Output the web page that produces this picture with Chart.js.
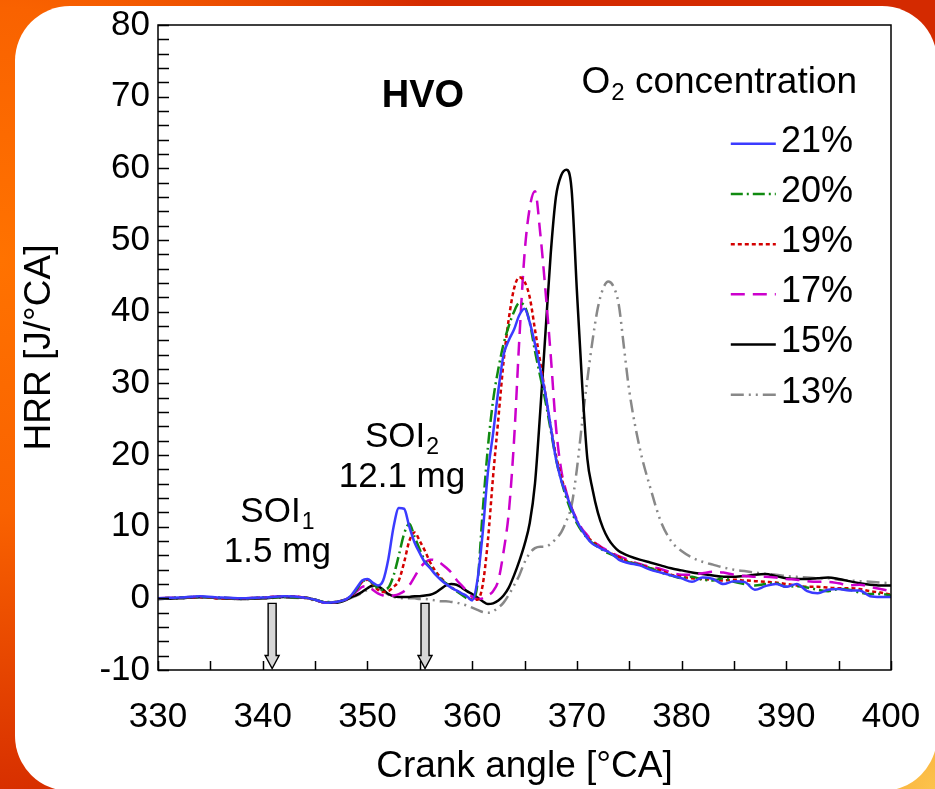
<!DOCTYPE html>
<html>
<head>
<meta charset="utf-8">
<script src="https://cdn.jsdelivr.net/npm/chart.js@4"></script>
<style>
  html, body { margin: 0; padding: 0; }
  body {
    width: 935px; height: 789px; overflow: hidden; position: relative;
    background:
      radial-gradient(circle 130px at 935px 789px, #fcc34c 0%, #f9b03c 45%, rgba(249,176,60,0) 100%),
      radial-gradient(ellipse 480px 560px at 0px 260px, #ff7200 0%, #f96200 45%, #d42a00 100%),
      #d42a00;
  }
  #card { position: absolute; left: 15px; top: 6px; width: 922px; height: 785px; background: #fff; border-radius: 55px; }
  #wrap { position: absolute; left: 0; top: 0; width: 935px; height: 789px; }
</style>
</head>
<body>
<div id="card"></div>
<div id="wrap"><canvas id="hrrChart"></canvas></div>
<script>
// crank angle [°CA]
var angle = [330, 332, 334, 336, 338, 340, 342, 344, 345, 346, 347, 348,
  348.5, 349, 349.5, 350, 350.5, 351, 351.5, 352, 352.5, 353, 353.5, 354, 354.5, 355, 355.5,
  356, 356.5, 357, 357.5, 358, 358.5, 359, 359.5, 360, 360.5, 361, 361.5, 362, 362.5, 363, 363.5,
  364, 364.5, 365, 365.5, 366, 366.5, 367, 367.5, 368, 368.5, 369, 369.5, 370, 370.5, 371, 371.5,
  372, 372.5, 373, 373.5, 374, 374.5, 375,
  376, 377, 378, 379, 380, 381, 382, 383, 384, 385, 386, 387, 388, 389, 390, 391, 392, 393, 394,
  395, 396, 397, 398, 399, 400];

// HRR [J/°CA] per O2 concentration
var hrr21 = [0, 0.1, 0.3, 0.1, 0, 0.1, 0.3, 0.1, -0.2, -0.6, -0.5, -0.1,
  0.5, 1.5, 2.5, 2.7, 2.2, 1.8, 2.5, 5.5, 10.0, 12.6, 12.5, 10.0, 7.8, 6.3, 5.0,
  4.2, 3.3, 2.6, 2.0, 1.5, 1.1, 0.7, 0.3, -0.3, 2.5, 9.0, 17.5, 23.0, 29.0, 34.0, 36.0,
  37.5, 39.5, 40.4, 38.5, 35.5, 32.0, 28.5, 24.0, 19.5, 16.5, 14.5, 12.5, 10.8, 9.5, 8.4, 7.6,
  7.2, 6.8, 6.5, 6.0, 5.4, 5.1, 4.9,
  4.6, 4.0, 3.6, 3.2, 2.8, 2.3, 2.9, 2.7, 2.0, 2.4, 2.3, 1.2, 1.7, 2.0, 1.6, 2.0, 1.0, 0.7, 1.2,
  1.3, 1.1, 1.1, 0.3, 0.2, 0.2];
var hrr20 = [0, 0.1, 0.2, 0.1, 0, 0.1, 0.2, 0.1, -0.2, -0.5, -0.5, -0.1,
  0.4, 1.3, 2.3, 2.6, 2.1, 1.4, 1.2, 1.5, 3.2, 6.0, 9.0, 10.4, 8.6, 6.8, 5.2,
  4.3, 3.5, 2.7, 2.1, 1.5, 1.0, 0.5, 0.0, -0.2, 2.0, 12.0, 21.0, 27.6, 32.0, 35.5, 38.0,
  40.0, 41.2, 40.8, 38.5, 34.5, 31.0, 27.5, 23.5, 19.5, 16.5, 14.0, 12.0, 10.5, 9.3, 8.4, 7.7,
  7.2, 6.7, 6.3, 6.0, 5.6, 5.3, 5.0,
  4.7, 4.2, 3.6, 3.2, 2.8, 3.0, 2.6, 2.5, 2.8, 2.3, 2.0, 1.8, 2.0, 2.1, 1.6, 1.7, 1.5, 1.2, 1.0,
  1.3, 1.2, 0.8, 0.6, 0.6, 0.4];
var hrr19 = [0, 0.1, 0.2, 0, 0, 0.1, 0.3, 0.1, -0.2, -0.6, -0.5, -0.1,
  0.4, 1.3, 2.3, 2.6, 2.0, 1.2, 0.9, 1.0, 1.6, 2.5, 5.0, 8.0, 9.2, 8.0, 6.6,
  5.0, 3.8, 2.9, 2.1, 1.5, 1.1, 0.6, 0.2, -0.2, -0.2, 1.8, 8.0, 17.0, 25.0, 33.0, 39.0,
  43.2, 44.8, 44.2, 42.0, 37.5, 33.0, 28.5, 24.0, 20.0, 17.0, 14.5, 12.5, 10.8, 9.5, 8.6, 7.9,
  7.4, 6.9, 6.5, 6.1, 5.8, 5.4, 5.1,
  4.7, 4.2, 3.9, 3.3, 3.0, 2.8, 2.7, 2.6, 2.5, 2.6, 2.5, 2.4, 2.3, 2.2, 2.0, 1.8, 1.6, 1.6, 1.5,
  1.4, 1.4, 1.3, 1.0, 0.8, 0.5];
var hrr17 = [0, 0.1, 0.2, 0.1, 0, 0.1, 0.3, 0.1, -0.2, -0.6, -0.5, -0.1,
  0.3, 1.0, 1.6, 1.7, 1.2, 0.7, 0.4, 0.3, 0.4, 0.6, 1.0, 1.8, 3.0, 4.2, 5.0,
  5.4, 5.3, 4.9, 4.3, 3.6, 2.6, 1.8, 1.0, 0.2, -0.1, 0.0, 0.4, 1.0, 2.5, 6.5, 12.0,
  22.0, 36.0, 48.0, 54.5, 56.8, 51.0, 43.0, 34.0, 24.0, 18.0, 14.8, 12.6, 11.0, 9.7, 8.8, 8.0,
  7.5, 7.0, 6.6, 6.2, 5.9, 5.6, 5.3,
  4.8, 4.4, 4.1, 3.6, 3.3, 3.3, 3.5, 3.7, 3.6, 3.3, 3.1, 3.0, 3.0, 2.9, 2.7, 2.6, 2.4, 2.3, 2.3,
  2.1, 1.8, 1.9, 1.6, 1.3, 1.0];
var hrr15 = [-0.1, 0, 0.2, 0, -0.1, 0, 0.2, 0.1, -0.2, -0.6, -0.6, -0.2,
  0.2, 0.5, 0.9, 1.4, 1.8, 1.7, 1.2, 0.6, 0.3, 0.2, 0.2, 0.2, 0.3, 0.3, 0.4,
  0.5, 0.8, 1.3, 1.8, 2.0, 1.9, 1.5, 1.0, 0.6, 0.1, -0.4, -0.8, -0.7, -0.3, 0.4, 1.5,
  3.2, 5.2, 7.5, 10.5, 16.0, 26.0, 37.0, 48.0, 56.0, 59.0, 59.8, 57.0, 43.0, 30.0, 19.5, 15.2,
  12.0, 9.8, 8.3, 7.3, 6.6, 6.2, 5.9,
  5.4, 5.0, 4.6, 4.2, 3.9, 3.6, 3.4, 3.2, 3.0, 3.0, 3.1, 3.3, 3.4, 3.1, 2.8, 2.7, 2.7, 2.8, 2.9,
  2.7, 2.4, 2.1, 1.9, 1.8, 1.8];
var hrr13 = [-0.1, 0, 0.1, 0, -0.1, 0, 0.1, 0, -0.3, -0.6, -0.6, -0.2,
  0.1, 0.4, 0.8, 1.2, 1.5, 1.4, 1.0, 0.5, 0.2, 0.1, 0.0, 0.0, 0.0, -0.1, -0.1,
  -0.2, -0.3, -0.4, -0.4, -0.5, -0.6, -0.8, -1.0, -1.3, -1.6, -1.9, -2.0, -1.8, -1.3, -0.6, 0.5,
  1.8, 3.2, 5.0, 6.3, 7.0, 7.2, 7.2, 7.6, 8.3, 9.2, 10.8, 13.0, 18.0, 24.5, 30.5, 36.0,
  40.5, 43.2, 44.2, 43.5, 41.0, 35.0, 29.0,
  21.0, 15.5, 10.8, 8.0, 6.6, 5.7, 5.1, 4.7, 4.3, 4.0, 3.8, 3.6, 3.4, 3.3, 3.1, 3.0, 2.9, 2.8, 2.8,
  2.6, 2.5, 2.4, 2.3, 2.2, 2.1];

var seriesLabels = ["21%", "20%", "19%", "17%", "15%", "13%"];
var xTickLabels = [330, 340, 350, 360, 370, 380, 390, 400];
var yTickLabels = [-10, 0, 10, 20, 30, 40, 50, 60, 70, 80];

var FONT = '"Liberation Sans", Arial, Helvetica, sans-serif';

function pts(vals) {
  return angle.map(function (a, i) { return { x: a, y: vals[i] }; });
}

var styles = [
  { color: "#3b3bff", dash: [] },
  { color: "#108a10", dash: [12, 4, 2, 4] },
  { color: "#d40000", dash: [4, 3] },
  { color: "#cc00cc", dash: [14, 8] },
  { color: "#000000", dash: [] },
  { color: "#888888", dash: [13, 5, 2, 5, 2, 5] }
];
var series = [hrr21, hrr20, hrr19, hrr17, hrr15, hrr13];

var data = {
  datasets: series.map(function (s, i) {
    return {
      label: seriesLabels[i],
      data: pts(s),
      borderColor: styles[i].color,
      borderDash: styles[i].dash,
      borderWidth: 2.5,
      pointRadius: 0,
      fill: false,
      cubicInterpolationMode: "monotone"
    };
  })
};

// text + subscript, centred on x
function subText(ctx, cx, cy, main, sub, size, bold) {
  var w = bold ? "bold " : "";
  ctx.font = w + size + "px " + FONT;
  var w1 = ctx.measureText(main).width;
  var ss = Math.round(size * 0.65);
  ctx.font = ss + "px " + FONT;
  var w2 = sub ? ctx.measureText(sub).width + 1 : 0;
  var x0 = cx - (w1 + w2) / 2;
  ctx.textAlign = "left";
  ctx.textBaseline = "middle";
  ctx.font = w + size + "px " + FONT;
  ctx.fillText(main, x0, cy);
  if (sub) {
    ctx.font = ss + "px " + FONT;
    ctx.fillText(sub, x0 + w1 + 1, cy + size * 0.3);
  }
}

function arrow(ctx, px, top, tip) {
  var sw = 4, hw = 7, hh = 13;
  ctx.beginPath();
  ctx.moveTo(px - sw, top);
  ctx.lineTo(px + sw, top);
  ctx.lineTo(px + sw, tip - hh);
  ctx.lineTo(px + hw, tip - hh);
  ctx.lineTo(px, tip);
  ctx.lineTo(px - hw, tip - hh);
  ctx.lineTo(px - sw, tip - hh);
  ctx.closePath();
  ctx.fillStyle = "#d6d6d6";
  ctx.fill();
  ctx.setLineDash([]);
  ctx.strokeStyle = "#000";
  ctx.lineWidth = 1.4;
  ctx.stroke();
}

// annotation spots in data units
var arrowAt = [340.9, 355.5];
var notes = [
  { x: 355.3, y: 70.0, main: "HVO", sub: "", bold: true, size: 38 },
  { x: 383.6, y: 72.0, main: "O", sub: "2", rest: " concentration", size: 37 },
  { x: 341.4, y: 12.0, main: "SOI", sub: "1", size: 35 },
  { x: 341.4, y: 6.4, main: "1.5 mg", sub: "", size: 35 },
  { x: 353.3, y: 22.5, main: "SOI", sub: "2", size: 35 },
  { x: 353.3, y: 16.9, main: "12.1 mg", sub: "", size: 35 }
];

var overlay = {
  id: "overlay",
  afterDatasetsDraw: function (chart) {
    var ctx = chart.ctx, a = chart.chartArea, x = chart.scales.x, y = chart.scales.y;
    ctx.save();
    ctx.setLineDash([]);
    ctx.strokeStyle = "#000";
    ctx.lineWidth = 1.5;
    ctx.strokeRect(a.left, a.top, a.right - a.left, a.bottom - a.top);

    // inward ticks
    ctx.beginPath();
    y.ticks.forEach(function (t) {
      var py = Math.round(y.getPixelForValue(t.value)) + 0.5;
      ctx.moveTo(a.left, py); ctx.lineTo(a.left + 11, py);
    });
    x.ticks.forEach(function (t) {
      var px = Math.round(x.getPixelForValue(t.value)) + 0.5;
      ctx.moveTo(px, a.bottom); ctx.lineTo(px, a.bottom - 9);
    });
    ctx.stroke();

    arrowAt.forEach(function (v) {
      arrow(ctx, x.getPixelForValue(v), y.getPixelForValue(-0.7), y.getPixelForValue(-9.8));
    });

    ctx.fillStyle = "#000";
    notes.forEach(function (n) {
      var cx = x.getPixelForValue(n.x), cy = y.getPixelForValue(n.y);
      if (n.rest) {
        var sub = Math.round(n.size * 0.65);
        ctx.font = n.size + "px " + FONT;
        var w1 = ctx.measureText(n.main).width;
        var w3 = ctx.measureText(n.rest).width;
        ctx.font = sub + "px " + FONT;
        var w2 = ctx.measureText(n.sub).width + 1;
        var x0 = cx - (w1 + w2 + w3) / 2;
        ctx.textAlign = "left"; ctx.textBaseline = "middle";
        ctx.font = n.size + "px " + FONT;
        ctx.fillText(n.main, x0, cy);
        ctx.fillText(n.rest, x0 + w1 + w2, cy);
        ctx.font = sub + "px " + FONT;
        ctx.fillText(n.sub, x0 + w1 + 1, cy + n.size * 0.3);
      } else {
        subText(ctx, cx, cy, n.main, n.sub, n.size, n.bold);
      }
    });

    // legend
    chart.data.datasets.forEach(function (ds, i) {
      var ry = y.getPixelForValue(63.7 - i * 7.0);
      ctx.beginPath();
      ctx.setLineDash(ds.borderDash);
      ctx.strokeStyle = ds.borderColor;
      ctx.lineWidth = 2.5;
      ctx.moveTo(x.getPixelForValue(384.7), ry + 2);
      ctx.lineTo(x.getPixelForValue(389.0), ry + 2);
      ctx.stroke();
      ctx.setLineDash([]);
      ctx.fillStyle = "#000";
      ctx.font = "36px " + FONT;
      ctx.textAlign = "left"; ctx.textBaseline = "middle";
      ctx.fillText(ds.label, x.getPixelForValue(389.5), ry);
    });
    ctx.restore();
  }
};

var config = {
  type: "line",
  data: data,
  options: {
    responsive: true,
    maintainAspectRatio: false,
    animation: false,
    events: [],
    layout: { padding: { left: 0, top: 25, right: 44, bottom: 0 } },
    plugins: { legend: { display: false }, tooltip: { enabled: false } },
    scales: {
      x: {
        type: "linear", min: 330, max: 400,
        grid: { display: false, drawTicks: false },
        border: { display: false },
        ticks: {
          stepSize: 5, autoSkip: false, maxRotation: 0, padding: 26, color: "#000",
          font: { family: FONT, size: 35 },
          callback: function (v) { return xTickLabels.indexOf(v) >= 0 ? String(v) : ""; }
        },
        title: { display: true, text: "Crank angle [°CA]", color: "#000",
          font: { family: FONT, size: 37 }, padding: { top: 0, bottom: 0 } },
        afterFit: function (s) { s.height = 119; s.paddingLeft = 0; s.paddingRight = 0; }
      },
      y: {
        min: -10, max: 80,
        grid: { display: false, drawTicks: false },
        border: { display: false },
        ticks: {
          stepSize: 2, autoSkip: false, padding: 8, color: "#000",
          font: { family: FONT, size: 35 },
          callback: function (v) { return yTickLabels.indexOf(v) >= 0 ? String(v) : ""; }
        },
        title: { display: true, text: "HRR [J/°CA]", color: "#000",
          font: { family: FONT, size: 37 }, padding: { top: 18, bottom: 0 } },
        afterFit: function (s) { s.width = 158; s.paddingTop = 0; s.paddingBottom = 0; }
      }
    }
  },
  plugins: [overlay]
};

var hrrChart = new Chart(document.getElementById("hrrChart"), config);
</script>
</body>
</html>
